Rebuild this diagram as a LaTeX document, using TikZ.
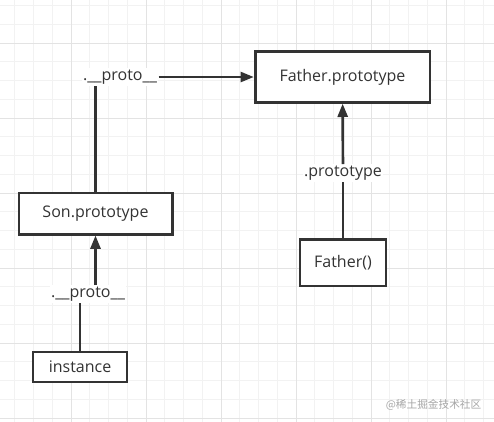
\documentclass[tikz,border=0pt]{standalone}
\usepackage{fontspec}
\setmainfont{Open Sans}
\newfontfamily\cjkfont{Noto Sans CJK SC}
\usetikzlibrary{arrows.meta}

\definecolor{inkgray}{HTML}{333333}
\definecolor{gridminor}{HTML}{F2F2F2}
\definecolor{gridmajor}{HTML}{E3E3E3}

\begin{document}
\begin{tikzpicture}[x=0.75pt, y=-0.75pt, every node/.style={font=\fontsize{12}{14}\selectfont, text=inkgray}, >={Triangle[length=10pt, width=7.5pt]}, box/.style={draw=inkgray, line width=2pt, fill=white, inner sep=0pt}, lbl/.style={fill=white, inner sep=1pt}, link/.style={draw=inkgray, line width=2pt}]
	\useasboundingbox[fill=white] (0,0) rectangle (494,422);
	% grid
	\foreach \i in {0,...,25} {\draw[gridminor, line width=0.75pt] (14.75+\i*18.75,0) -- ++(0,422);}
	\foreach \i in {0,...,22} {\draw[gridminor, line width=0.75pt] (0,5.5+\i*18.75) -- ++(494,0);}
	\foreach \i in {0,...,5} {\draw[gridmajor, line width=0.75pt] (71+\i*75,0) -- ++(0,422);}
	\foreach \i in {0,...,5} {\draw[gridmajor, line width=0.75pt] (0,43+\i*75) -- ++(494,0);}
	% boxes
	\node[box, minimum width=131pt, minimum height=38pt] (fproto) at (342.5,77) {Father.prototype};
	\node[box, minimum width=115pt, minimum height=31pt] (sproto) at (95.5,213.5) {Son.prototype};
	\node[box, minimum width=70.5pt, minimum height=22.5pt] (inst) at (80,367) {instance};
	\node[box, minimum width=64.5pt, minimum height=35pt] (father) at (343,262.5) {Father()};
	% labels
	\node[lbl] (l1) at (120,77) {.\_\_proto\_\_};
	\node[lbl] (l2) at (88,294) {.\_\_proto\_\_};
	\node[lbl] (l3) at (343,173) {.prototype};
	% links
	\draw[link] (sproto.north) -- (sproto.north |- l1.south);
	\draw[link, ->] (l1) -- (fproto);
	\draw[link] (inst) -- (inst |- l2.south);
	\draw[link, ->] (sproto.south |- l2.north) -- (sproto);
	\draw[link] (father) -- (l3);
	\draw[link, ->] (l3) -- (fproto);
	\node[font=\cjkfont\fontsize{8}{9}\selectfont, text=black!35, anchor=east] (mark) at (486,405) {@稀土掘金技术社区};
\end{tikzpicture}
\end{document}
